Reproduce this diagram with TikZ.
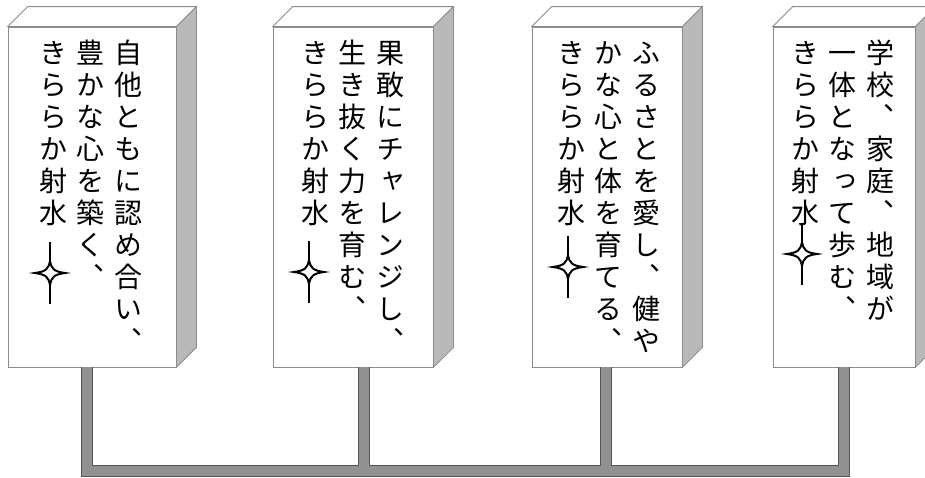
\documentclass[tikz,border=0pt]{standalone}
\usepackage{fontspec}
\usepackage{tikz}
\usetikzlibrary{calc,positioning}
\newfontfamily\jpfont[RawFeature=+vert]{Noto Sans CJK JP}
\definecolor{edgeColor}{RGB}{140, 140, 140}
\definecolor{sideColor}{RGB}{185, 185, 185}
\definecolor{barColor}{RGB}{145, 145, 145}
\definecolor{barEdge}{RGB}{85, 85, 85}

% one column of vertical text, one character per cell
\ExplSyntaxOn
\NewDocumentCommand\tatecol{m}
  {
    \vtop
      {
        \offinterlineskip
        \tl_map_inline:nn {#1}
          { \hbox_to_wd:nn {37.5pt} { \hss \vrule~width~0pt~height~26.6pt~depth~5.4pt ##1 \hss } }
      }
  }
\ExplSyntaxOff

\begin{document}
\begin{tikzpicture}[x=1pt, y=-1pt,
    front/.style={draw=edgeColor, fill=white, line width=0.8pt, minimum height=340pt, inner sep=0pt},
    topface/.style={draw=edgeColor, fill=white, line width=0.8pt},
    sideface/.style={draw=edgeColor, fill=sideColor, line width=0.8pt},
    vtext/.style={anchor=north east, inner sep=0pt, font=\jpfont\fontsize{28}{32}\selectfont},
    sparkle/.pic={
        \draw[line width=1.8pt] (0,-31) -- (0,31);
        \draw[line width=2pt, fill=white] (15,0) .. controls (4,1.5) and (1.5,4) .. (0,12)
            .. controls (-1.5,4) and (-4,1.5) .. (-15,0) .. controls (-4,-1.5) and (-1.5,-4) .. (0,-12)
            .. controls (1.5,-4) and (4,-1.5) .. (15,0) -- cycle;
    }]
    \useasboundingbox (0,0) rectangle (925,477);

    % Front faces
    \node[front, minimum width=168pt] (box1) at (92,197) {};
    \node[front, minimum width=160pt] (box2) at (353,197) {};
    \node[front, minimum width=150pt] (box3) at (607,197) {};
    \node[front, minimum width=142pt] (box4) at (844,197) {};

    % Top and right faces
    \foreach \b in {box1,box2,box3,box4}{
        \draw[topface] (\b.north west) -- ++(20,-20) -- ($(\b.north east)+(20,-20)$) -- (\b.north east) -- cycle;
        \draw[sideface] (\b.north east) -- ++(20,-20) -- ($(\b.south east)+(20,-20)$) -- (\b.south east) -- cycle;
    }

    % Texts
    \node[vtext] (text1) at (147,37) {\tatecol{きららか射水}\tatecol{豊かな心を築く、}\tatecol{自他ともに認め合い、}};
    \node[vtext] (text2) at (409,37) {\tatecol{きららか射水}\tatecol{生き抜く力を育む、}\tatecol{果敢にチャレンジし、}};
    \node[vtext] (text3) at (665,37) {\tatecol{きららか射水}\tatecol{かな心と体を育てる、}\tatecol{ふるさとを愛し、健や}};
    \node[vtext] (text4) at (899,37) {\tatecol{きららか射水}\tatecol{一体となって歩む、}\tatecol{学校、家庭、地域が}};

    % Stars
    \pic at (50,273) {sparkle};
    \pic at (309,272) {sparkle};
    \pic at (568,267) {sparkle};
    \pic at (802,254) {sparkle};

    % Connectors
    \coordinate (bus) at (0,471);
    \coordinate (s1) at ([xshift=-5pt]box1.south);
    \coordinate (s2) at ([xshift=11pt]box2.south);
    \coordinate (s3) at ([xshift=-1pt]box3.south);
    \coordinate (s4) at (box4.south);
    \foreach \w/\c in {12/barEdge, 10/barColor}{
        \draw[line width=\w pt, \c] (s1) -- (s1 |- bus) -- (s4 |- bus) -- (s4);
        \draw[line width=\w pt, \c] (s2) -- (s2 |- bus);
        \draw[line width=\w pt, \c] (s3) -- (s3 |- bus);
    }
\end{tikzpicture}
\end{document}
